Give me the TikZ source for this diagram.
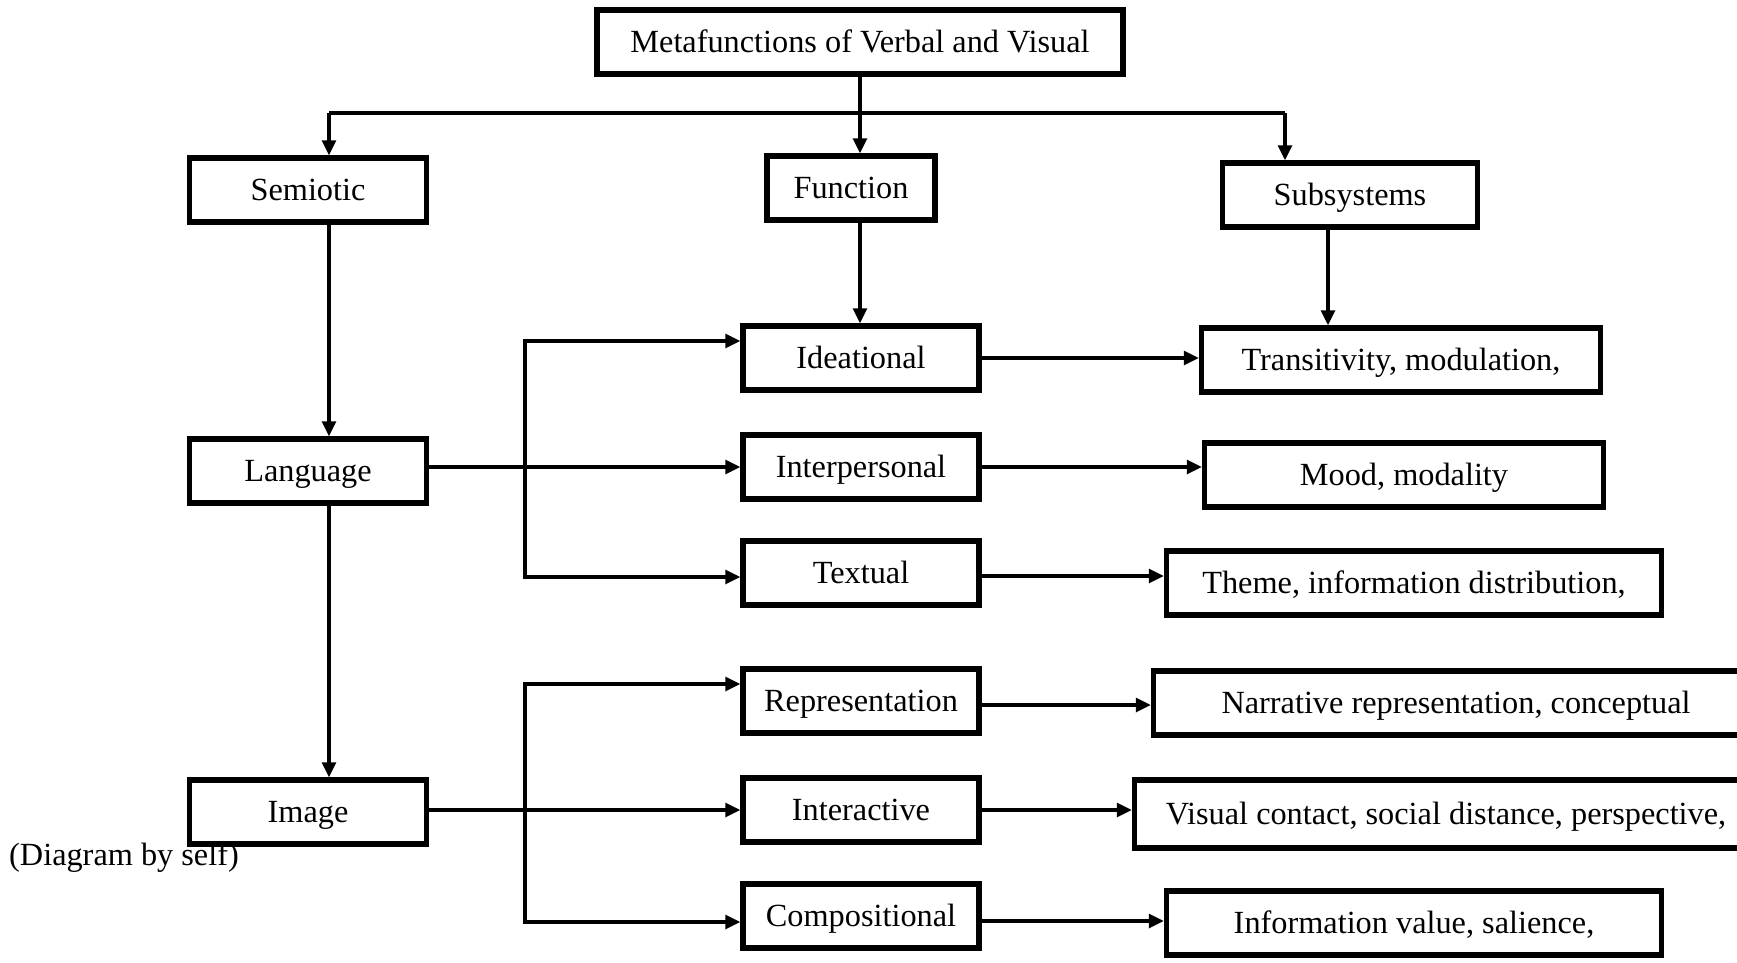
\documentclass[tikz,border=0pt]{standalone}
\usepackage{fontspec}
\setmainfont{Liberation Serif}
\usetikzlibrary{arrows.meta,positioning}

\begin{document}
\begin{tikzpicture}[x=1pt,y=-1pt,
	box/.style={draw, line width=5.5pt, rectangle, minimum height=64pt, inner sep=0pt,
		text height=26pt, text depth=6pt, font=\fontsize{32.3}{38}\selectfont},
	arr/.style={line width=3.2pt, -{Triangle[length=15pt,width=14pt]}},
	plain/.style={line width=3.2pt}]
	\useasboundingbox (0,0) rectangle (1737,962);

	\node[box, minimum width=526pt] (top) at (860,42) {Metafunctions of Verbal and Visual};
	\node[box, minimum width=237pt] (sem) at (308,190) {Semiotic};
	\node[box, minimum width=168pt] (func) at (851,188) {Function};
	\node[box, minimum width=255pt] (subs) at (1350,195) {Subsystems};

	\node[box, minimum width=237pt] (lang) at (308,471) {Language};
	\node[box, minimum width=237pt] (img) at (308,812) {Image};

	\node[box, minimum width=236pt] (ideat) at (861,358) {Ideational};
	\node[box, minimum width=236pt] (interp) at (861,467) {Interpersonal};
	\node[box, minimum width=236pt] (textl) at (861,573) {Textual};
	\node[box, minimum width=236pt] (repr) at (861,701) {Representation};
	\node[box, minimum width=236pt] (inter) at (861,810) {Interactive};
	\node[box, minimum width=236pt] (comp) at (861,916) {Compositional};

	\node[box, minimum width=399pt] (trans) at (1401,360) {Transitivity, modulation,};
	\node[box, minimum width=399pt] (mood) at (1404,475) {Mood, modality};
	\node[box, minimum width=495pt] (theme) at (1414,583) {Theme, information distribution,};
	\node[box, minimum width=605pt] (narr) at (1456,703) {Narrative representation, conceptual};
	\node[box, minimum width=623pt, minimum height=68pt] (visual) at (1446,814) {Visual contact, social distance, perspective,};
	\node[box, minimum width=495pt] (info) at (1414,923) {Information value, salience,};

	\node[anchor=west, inner sep=0pt, font=\fontsize{32.3}{38}\selectfont] (note) at (9,858) {(Diagram by self)};

	\coordinate (hl) at (329,113);
	\coordinate (hr) at (1285,113);
	\coordinate (lb) at (525,467);
	\coordinate (ib) at (525,810);

	\draw[plain] (hl) -- (hr);
	\draw[arr] (top.south) -- (top.south |- func.north);
	\draw[arr] (hl) -- (hl |- sem.north);
	\draw[arr] (hr) -- (hr |- subs.north);

	\draw[arr] (sem.south -| hl) -- (lang.north -| hl);
	\draw[arr] (lang.south -| hl) -- (img.north -| hl);
	\draw[arr] (func.south -| top.south) -- (ideat.north -| top.south);
	\draw[arr] ([xshift=-22pt]subs.south) -- ([xshift=-22pt]subs.south |- trans.north);

	\draw[arr] (lang.east |- lb) -- (interp.west);
	\draw[arr] (lb) |- ([yshift=17pt]ideat.west);
	\draw[arr] (lb) |- ([yshift=-4pt]textl.west);
	\draw[arr] (img.east |- ib) -- (inter.west);
	\draw[arr] (ib) |- ([yshift=17pt]repr.west);
	\draw[arr] (ib) |- ([yshift=-6pt]comp.west);

	\draw[arr] (ideat.east) -- (ideat.east -| trans.west);
	\draw[arr] (interp.east) -- (interp.east -| mood.west);
	\draw[arr] ([yshift=-3pt]textl.east) -- ([yshift=-3pt]textl.east -| theme.west);
	\draw[arr] ([yshift=-4pt]repr.east) -- ([yshift=-4pt]repr.east -| narr.west);
	\draw[arr] (inter.east) -- (inter.east -| visual.west);
	\draw[arr] ([yshift=-5pt]comp.east) -- ([yshift=-5pt]comp.east -| info.west);
\end{tikzpicture}
\end{document}
